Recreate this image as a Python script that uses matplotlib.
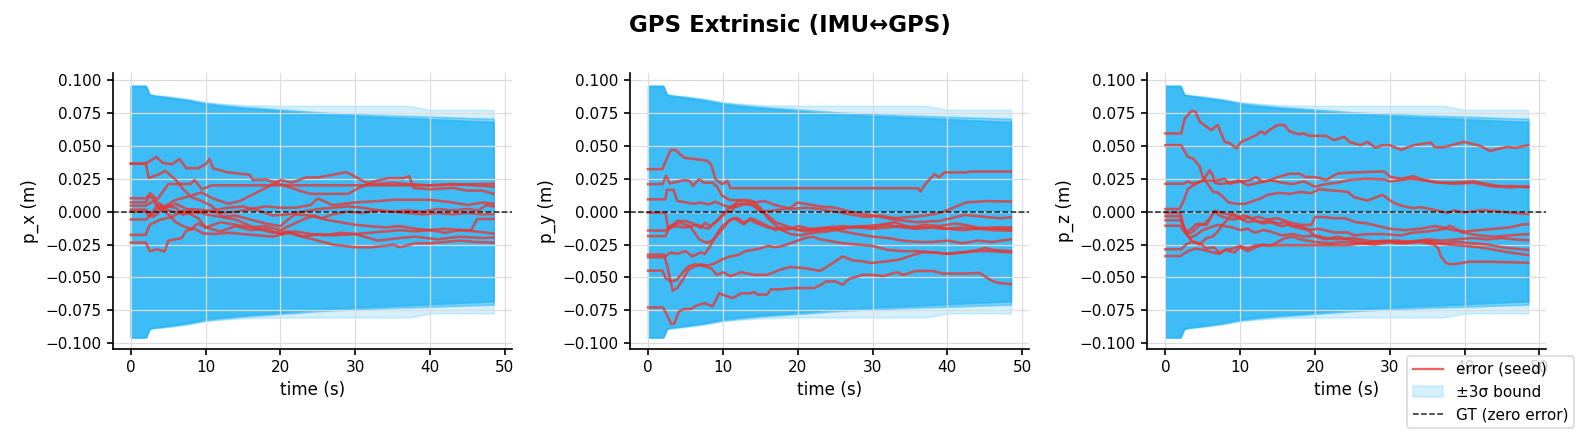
import matplotlib
matplotlib.use("Agg")
import matplotlib.pyplot as plt
from matplotlib.lines import Line2D
from matplotlib.patches import Patch
import numpy as np

ERR_COLOR = "#e53935"
BAND_COLOR = "#29b6f6"

# 3-sigma envelope knots (s, m); every axis shows the same set of seeds
SIG_T = [0, 2, 2.5, 3, 4, 5, 7.5, 10, 12, 15, 20, 25, 30, 35, 37, 38.5, 40, 45, 48.5]
SIG_TIGHT = [0.0955, 0.0955, 0.0888, 0.0880, 0.0872, 0.0865, 0.0844, 0.0816, 0.0802, 0.0786,
             0.0765, 0.0742, 0.0727, 0.0714, 0.0710, 0.0706, 0.0702, 0.0689, 0.0681]
SIG_MID = [0.0955, 0.0955, 0.0890, 0.0884, 0.0877, 0.0870, 0.0852, 0.0826, 0.0813, 0.0797,
           0.0777, 0.0756, 0.0741, 0.0730, 0.0727, 0.0724, 0.0722, 0.0712, 0.0706]
SIG_WIDE = [0.0955, 0.0955, 0.0892, 0.0888, 0.0882, 0.0878, 0.0858, 0.0832, 0.0822, 0.0810,
            0.0804, 0.0804, 0.0804, 0.0804, 0.0804, 0.0790, 0.0773, 0.0773, 0.0773]
SEED_SIGMAS = [SIG_TIGHT] * 6 + [SIG_MID] * 3 + [SIG_WIDE]

# error traces, (time, error) pairs per seed
PX_SEEDS = [
    [(0, 0.0365), (2, 0.0365), (3.4, 0.0415), (4.3, 0.037), (5.5, 0.036), (6.5, 0.040), (7.4, 0.033),
     (9, 0.033), (10, 0.036), (10.5, 0.040), (11, 0.033), (12.8, 0.030), (15.9, 0.028), (16.3, 0.024),
     (18, 0.0245), (19.9, 0.021), (21, 0.019), (22.5, 0.016), (24, 0.0135), (29, 0.0135), (30.5, 0.018),
     (32.5, 0.023), (34.5, 0.0255), (36.5, 0.0255), (37.2, 0.027), (37.8, 0.018), (40, 0.017),
     (43, 0.018), (45, 0.016), (47, 0.016), (48.5, 0.0135)],
    [(0, 0.0365), (2, 0.0365), (2.4, 0.0256), (3.6, 0.028), (4.6, 0.031), (5.9, 0.0248), (7, 0.017),
     (8.1, 0.011), (9.4, 0.0082), (10.8, 0.0044), (12.3, -0.0043), (14, -0.006), (16.8, -0.013),
     (19, -0.016), (21, -0.015), (23, -0.019), (25, -0.017), (27, -0.018), (30, -0.017), (33, -0.022),
     (36, -0.020), (38, -0.019), (41, -0.021), (44, -0.019), (47, -0.020), (48.5, -0.0196)],
    [(0, 0.0102), (2, 0.0102), (2.6, 0.014), (3.5, 0.009), (5, 0.021), (8, 0.021), (8.5, 0.024),
     (9.5, 0.017), (10.8, 0.020), (36, 0.020), (40, 0.020), (48.5, 0.0212)],
    [(0, 0.0071), (2, 0.0071), (2.5, 0.012), (3.5, 0.007), (4.5, 0.004), (6, 0.009), (8, 0.012),
     (9.4, 0.0146), (11, 0.010), (13, 0.006), (14.5, 0.008), (17, 0.015), (19, 0.021), (20, 0.024),
     (21.5, 0.022), (23.4, 0.026), (25, 0.026), (27, 0.028), (28.8, 0.030), (29.5, 0.028),
     (31.5, 0.022), (33, 0.021), (35, 0.022), (37, 0.021), (40, 0.020), (43, 0.021), (46, 0.020),
     (48.5, 0.019)],
    [(0, 0.0046), (2, 0.0046), (3, 0.008), (4, 0.001), (5, 0.004), (6, 0.003), (7, -0.002), (8, 0.002),
     (10, 0.001), (12, -0.001), (14, 0.000), (16, 0.002), (18, 0.004), (20, 0.003), (22, 0.003),
     (24, 0.005), (25, 0.010), (27, 0.005), (30, 0.007), (33, 0.008), (35, 0.009), (37, 0.009),
     (40, 0.009), (43, 0.007), (45, 0.005), (47, 0.007), (48.5, 0.0059)],
    [(0, 0.0015), (2, 0.0015), (3, -0.004), (4.5, 0.003), (6, 0.006), (7.5, 0.002), (9, -0.001),
     (11, 0.001), (13, 0.003), (15, 0.004), (17, 0.001), (19, -0.003), (21, -0.002), (23, 0.000),
     (25, 0.002), (27, 0.003), (29, 0.004), (31, 0.003), (33, 0.001), (35, 0.000), (37, -0.001),
     (39, -0.002), (41, -0.001), (43, -0.002), (45, -0.001), (47, -0.002), (48.5, -0.0018)],
    [(0, 0.0), (2, 0.0), (2.5, -0.004), (3.5, 0.005), (5, 0.001), (7, -0.002), (9, 0.000), (10, -0.002),
     (12, -0.004), (14, -0.003), (16, -0.006), (18, -0.009), (20, -0.011), (21, -0.006), (22, -0.002),
     (24, -0.003), (26, -0.006), (28, -0.008), (30, -0.010), (32, -0.011), (34, -0.012), (36, -0.011),
     (38, -0.013), (40, -0.014), (42, -0.013), (44, -0.014), (45.5, -0.014), (46.3, -0.0056),
     (48.5, -0.0056)],
    [(0, -0.0059), (2, -0.0059), (3, -0.001), (4, 0.004), (5, -0.002), (6, -0.008), (7, -0.011),
     (8, -0.013), (9, -0.009), (10, -0.012), (12, -0.015), (14, -0.011), (16, -0.014), (18, -0.013),
     (20, -0.017), (22, -0.015), (24, -0.017), (26, -0.018), (28, -0.016), (30, -0.017), (32, -0.016),
     (34, -0.015), (36, -0.014), (38, -0.015), (40, -0.014), (42, -0.016), (44, -0.014), (46, -0.015),
     (48.5, -0.0166)],
    [(0, -0.0176), (2, -0.0176), (2.5, -0.010), (4, -0.006), (5.5, -0.004), (7, 0.001), (8, -0.002),
     (9, -0.005), (10, -0.012), (12, -0.008), (14, -0.010), (16, -0.012), (18, -0.011), (20, -0.014),
     (21.5, -0.010), (23, -0.006), (24.5, -0.003), (25.5, -0.005), (27, -0.002), (29, 0.000),
     (31, -0.001), (33, 0.001), (35, 0.000), (37, 0.001), (39, 0.000), (41, 0.002), (43, 0.001),
     (45, 0.002), (46.5, 0.001), (47.5, 0.005), (48.5, 0.004)],
    [(0, -0.0235), (2, -0.0235), (2.5, -0.030), (3.5, -0.0285), (4.5, -0.0303), (5, -0.022), (6, -0.021),
     (6.8, -0.020), (7.4, -0.0145), (8.5, -0.013), (9.7, -0.0166), (11.4, -0.017), (13, -0.016),
     (15, -0.017), (17, -0.018), (19, -0.019), (21, -0.016), (23, -0.019), (25, -0.022), (27, -0.025),
     (30, -0.027), (32, -0.027), (34, -0.026), (35, -0.025), (36, -0.027), (38, -0.024), (40, -0.024),
     (42, -0.023), (44, -0.022), (46, -0.023), (48.5, -0.0235)],
]

PY_SEEDS = [
    [(0, 0.0323), (1.9, 0.0323), (3, 0.0468), (3.7, 0.0468), (4.8, 0.041), (7.9, 0.0387), (8.4, 0.036),
     (9, 0.0247), (9.9, 0.0209), (10.6, 0.0234), (11, 0.0178), (36.1, 0.0178), (36.4, 0.0153),
     (37.2, 0.022), (38.3, 0.0285), (38.9, 0.026), (39.6, 0.0298), (42.5, 0.0298), (43, 0.0305),
     (48.5, 0.0305)],
    [(0, 0.0209), (1.9, 0.0209), (2.4, 0.0272), (2.9, 0.0214), (4.8, 0.024), (5.5, 0.0235), (6, 0.0196),
     (6.8, 0.0247), (7.5, 0.022), (8.6, 0.022), (9.2, 0.019), (9.9, 0.012), (11, 0.0087), (12.4, 0.0087),
     (14.2, 0.0069), (15.5, 0.0081), (17, 0.005), (19, 0.002), (21, 0.003), (23, 0.002), (25, 0.000),
     (27, -0.002), (29, -0.004), (31, -0.003), (33, -0.005), (35, -0.004), (37, -0.003), (39, -0.001),
     (40.8, 0.003), (42.5, 0.007), (45.2, 0.008), (48.5, 0.0077)],
    [(0, 0.0094), (2.3, 0.0094), (2.5, 0.0165), (3.4, 0.0165), (3.9, 0.0081), (5.2, 0.0069), (6, 0.006),
     (7, 0.0069), (8.1, 0.0056), (9, 0.0075), (9.7, 0.0056), (11, 0.003), (12, 0.004), (13, 0.006),
     (14, 0.005), (15, 0.000), (17, 0.001), (19, 0.003), (20, 0.007), (21, 0.006), (23, 0.004),
     (25, 0.003), (27, 0.000), (30, -0.003), (33, -0.006), (36, -0.008), (39, -0.007), (42.3, -0.0025),
     (45, -0.004), (47, -0.005), (48.5, -0.0043)],
    [(0, -0.0008), (2.3, -0.0008), (2.7, -0.0135), (3.5, -0.011), (5, -0.012), (6.5, -0.010), (8, -0.013),
     (9, -0.008), (10, -0.002), (11, 0.004), (12, 0.006), (13, 0.006), (14, 0.005), (15, 0.001),
     (16, -0.003), (17, -0.008), (18, -0.010), (19, -0.012), (20, -0.014), (22, -0.013), (24, -0.012),
     (26, -0.015), (28, -0.017), (30, -0.019), (32, -0.020), (34, -0.022), (36, -0.023), (38, -0.023),
     (40, -0.022), (42, -0.024), (44, -0.022), (46, -0.023), (48.5, -0.021)],
    [(0, -0.0143), (2.3, -0.0143), (3.9, -0.0071), (5, -0.0071), (6, -0.009), (7, -0.0122),
     (7.6, -0.0085), (8.3, -0.011), (9, -0.008), (9.7, -0.0046), (10.5, 0.0), (11.2, 0.0005),
     (11.9, 0.0081), (13, 0.009), (14, 0.008), (15, 0.003), (16, -0.005), (17, -0.010), (18, -0.014),
     (19, -0.013), (20, -0.011), (21, -0.012), (22, -0.014), (23, -0.013), (24, -0.012), (26, -0.011),
     (28, -0.012), (30, -0.013), (32, -0.012), (34, -0.011), (36, -0.012), (38, -0.012), (40, -0.013),
     (42, -0.012), (44, -0.013), (46, -0.012), (48.5, -0.012)],
    [(0, -0.0186), (2.3, -0.0186), (2.9, -0.011), (4.3, -0.0085), (5.6, -0.011), (6.8, -0.021),
     (7.9, -0.0237), (8.8, -0.021), (9.7, -0.0148), (10.8, -0.0071), (11.5, -0.005), (12.8, -0.0097),
     (13.7, -0.005), (15, -0.008), (16, -0.011), (17, -0.014), (18, -0.012), (19.5, -0.013),
     (21, -0.015), (23, -0.014), (25, -0.013), (27, -0.012), (29, -0.011), (31, -0.010), (33, -0.008),
     (35, -0.012), (37, -0.010), (39, -0.011), (41, -0.009), (42.3, -0.010), (44, -0.012),
     (46, -0.013), (48.5, -0.013)],
    [(0, -0.0326), (2.1, -0.0326), (2.5, -0.040), (3, -0.053), (3.3, -0.060), (3.9, -0.058),
     (4.6, -0.052), (5.4, -0.044), (6.1, -0.042), (7, -0.040), (8, -0.041), (9, -0.039), (10, -0.036),
     (11, -0.034), (12, -0.033), (13, -0.030), (14, -0.029), (15, -0.028), (16, -0.026), (17, -0.027),
     (18, -0.026), (19, -0.024), (20, -0.022), (21, -0.020), (22, -0.019), (23, -0.021), (24, -0.022),
     (25, -0.023), (26, -0.024), (28, -0.025), (30, -0.026), (32, -0.029), (34, -0.030), (36, -0.030),
     (38, -0.031), (40, -0.032), (42, -0.031), (44, -0.030), (46, -0.030), (48.5, -0.031)],
    [(0, -0.0346), (2.1, -0.0346), (3, -0.031), (3.9, -0.032), (5, -0.030), (5.9, -0.034), (7, -0.031),
     (7.6, -0.032), (8.3, -0.026), (9, -0.0186), (9.9, -0.011), (11, -0.0059), (11.9, -0.0048),
     (12.8, -0.0084), (13.5, -0.006), (14.6, -0.009), (16, -0.012), (17.5, -0.013), (19, -0.017),
     (20.5, -0.018), (22, -0.016), (24, -0.015), (26, -0.013), (28, -0.011), (30, -0.012),
     (32, -0.010), (34, -0.012), (36, -0.013), (38, -0.012), (40, -0.013), (42, -0.014), (44, -0.013),
     (46, -0.014), (48.5, -0.0145)],
    [(0, -0.0448), (1.9, -0.0448), (2.3, -0.050), (3, -0.053), (3.8, -0.052), (4.8, -0.045),
     (5.4, -0.0415), (6.3, -0.040), (7.5, -0.0415), (8.4, -0.043), (9.2, -0.048), (10, -0.046),
     (11, -0.049), (12.4, -0.046), (14.2, -0.048), (15.9, -0.048), (17.7, -0.044), (19, -0.042),
     (21, -0.043), (23, -0.045), (24.7, -0.039), (26, -0.034), (27.3, -0.037), (28.7, -0.0377),
     (29.8, -0.039), (31.5, -0.038), (33.6, -0.0364), (35.4, -0.033), (36.7, -0.0306), (38.5, -0.031),
     (39.9, -0.032), (42.5, -0.0306), (44.2, -0.029), (45, -0.0275), (46, -0.029), (48.5, -0.030)],
    [(0, -0.0728), (2, -0.0728), (3.1, -0.0853), (3.5, -0.085), (4.1, -0.0759), (4.8, -0.074),
     (5.7, -0.074), (6.4, -0.0715), (7, -0.0703), (7.6, -0.0695), (8.6, -0.072), (9.5, -0.062),
     (10.4, -0.064), (11.3, -0.0657), (12.4, -0.062), (13.7, -0.062), (14.2, -0.061), (14.6, -0.063),
     (15.9, -0.063), (16.4, -0.059), (17.7, -0.059), (19.5, -0.058), (22.2, -0.058), (23.1, -0.0555),
     (23.8, -0.053), (25, -0.053), (26, -0.0555), (26.9, -0.051), (28.7, -0.048), (30, -0.048),
     (31.4, -0.049), (33.2, -0.046), (34.1, -0.048), (35.8, -0.045), (38, -0.045), (39.4, -0.047),
     (42.5, -0.047), (44.3, -0.0465), (45.8, -0.052), (46.7, -0.054), (48.5, -0.055)],
]

PZ_SEEDS = [
    [(0, 0.0594), (2.1, 0.0594), (2.6, 0.071), (3.5, 0.0765), (4, 0.076), (4.6, 0.0683), (6.1, 0.062),
     (7, 0.0658), (7.9, 0.053), (8.6, 0.052), (9.5, 0.048), (10.1, 0.053), (11.2, 0.0556), (12.1, 0.058),
     (12.8, 0.061), (13.3, 0.059), (13.9, 0.062), (15, 0.0658), (15.9, 0.0658), (16.6, 0.061),
     (17.9, 0.0587), (18.5, 0.0595), (19.2, 0.0576), (21.5, 0.0576), (22.1, 0.0556), (22.6, 0.0543),
     (23.9, 0.0569), (24.6, 0.053), (26.1, 0.0505), (27, 0.053), (28.1, 0.0485), (29, 0.0505),
     (30, 0.0505), (31.5, 0.047), (33.2, 0.0505), (35.5, 0.0525), (36, 0.049), (37.2, 0.049),
     (39.9, 0.053), (42.1, 0.050), (43.4, 0.046), (44.7, 0.048), (45.7, 0.0492), (46.8, 0.0485),
     (48.5, 0.0505)],
    [(0, 0.0505), (2.1, 0.0505), (3, 0.0416), (3.7, 0.0405), (4.6, 0.034), (5, 0.0263), (6.4, 0.0148),
     (6.9, 0.0148), (7.5, 0.0122), (8.4, 0.0071), (9.5, 0.0059), (10.6, 0.0059), (11.2, 0.0071),
     (12.6, 0.0097), (13.7, 0.0128), (15.2, 0.0143), (16.6, 0.0135), (18, 0.0150), (19.5, 0.014),
     (20.5, 0.017), (22.6, 0.016), (24.4, 0.015), (25.2, 0.011), (27, 0.0084), (29, 0.0128),
     (30.4, 0.0071), (31.5, 0.0046), (33.2, 0.0026), (34, 0.0035), (35.9, 0.0015), (37.7, -0.001),
     (38.6, 0.001), (39.9, -0.0005), (42.6, 0.0012), (45.7, -0.0005), (48.5, -0.0018)],
    [(0, 0.0212), (2.4, 0.0212), (3, 0.023), (3.7, 0.0212), (5, 0.0237), (6.8, 0.0237), (7.9, 0.025),
     (8.6, 0.0212), (9.5, 0.0225), (11.2, 0.0237), (12.1, 0.0263), (13, 0.0225), (13.9, 0.0237),
     (15, 0.0263), (16.6, 0.0288), (17.9, 0.0288), (18.8, 0.0263), (20, 0.0263), (21.5, 0.024),
     (23, 0.029), (24.4, 0.0296), (29.2, 0.0306), (30.1, 0.0263), (31.5, 0.025), (33.2, 0.027),
     (34, 0.025), (35.9, 0.0224), (38.6, 0.0212), (41.2, 0.022), (43.9, 0.019), (46, 0.0195),
     (48.5, 0.0186)],
    [(0, 0.002), (1.9, 0.002), (2.4, 0.008), (3, 0.0173), (4.1, 0.0212), (5, 0.0237), (5.9, 0.0314),
     (6.3, 0.028), (6.6, 0.022), (7.3, 0.021), (8.6, 0.022), (9.8, 0.0237), (11, 0.020), (12.5, 0.022),
     (14, 0.024), (15.5, 0.022), (17, 0.021), (18.5, 0.023), (20, 0.019), (21.5, 0.021), (23, 0.022),
     (24.5, 0.024), (26.6, 0.025), (29.2, 0.0245), (30.1, 0.023), (32.8, 0.025), (35.5, 0.023),
     (36.8, 0.022), (38.6, 0.022), (41.2, 0.023), (43.9, 0.020), (45.7, 0.0185), (48.5, 0.0191)],
    [(0, -0.001), (2, -0.001), (2.6, -0.016), (3.5, -0.013), (4.1, -0.0094), (5.2, -0.0094),
     (5.9, -0.0056), (6.6, 0.0008), (7.5, -0.001), (8.5, -0.002), (9.5, -0.0043), (10.5, -0.003),
     (11.5, -0.005), (12.5, -0.004), (13.5, -0.006), (15, -0.005), (16.5, -0.008), (18, -0.010),
     (19.5, -0.010), (20, -0.004), (21, -0.004), (22.5, -0.005), (24, -0.005), (25.5, -0.008),
     (27, -0.009), (28.5, -0.011), (30, -0.013), (32, -0.014), (34, -0.013), (36, -0.011),
     (37, -0.012), (38.5, -0.014), (40, -0.015), (42, -0.014), (44, -0.013), (46, -0.012),
     (47.5, -0.010), (48.5, -0.0094)],
    [(0, -0.0035), (2, -0.0035), (2.5, -0.012), (3, -0.017), (3.7, -0.015), (4.6, -0.010),
     (5.5, -0.010), (6.1, -0.004), (6.6, 0.0005), (7.2, -0.003), (8, -0.0045), (9, -0.006),
     (10, -0.005), (11, -0.008), (12, -0.007), (13, -0.009), (14, -0.008), (15.5, -0.011),
     (16.5, -0.010), (17.5, -0.012), (19, -0.014), (20.5, -0.013), (22.6, -0.0158), (24.4, -0.0158),
     (25.2, -0.018), (27, -0.017), (29, -0.017), (31.5, -0.018), (33, -0.016), (35, -0.015),
     (37.2, -0.0133), (38, -0.0107), (39.7, -0.0158), (41.9, -0.018), (44.1, -0.019), (46, -0.018),
     (48.5, -0.017)],
    [(0, -0.0065), (2, -0.0065), (2.3, -0.010), (3.2, -0.020), (4, -0.018), (5, -0.014), (6, -0.012),
     (7, -0.010), (8, -0.011), (9, -0.012), (10, -0.014), (11, -0.013), (12, -0.016), (13, -0.014),
     (14, -0.015), (15.5, -0.018), (17, -0.017), (18.5, -0.019), (20, -0.018), (21.5, -0.020),
     (23, -0.021), (25, -0.020), (27, -0.022), (29, -0.023), (31, -0.022), (33, -0.023), (35, -0.021),
     (37, -0.022), (39, -0.021), (41, -0.020), (43, -0.021), (45, -0.020), (46.5, -0.021),
     (48.5, -0.0217)],
    [(0, -0.0107), (2, -0.0107), (2.5, -0.015), (3.5, -0.022), (4.5, -0.025), (5.5, -0.020),
     (6.3, -0.019), (7, -0.015), (7.5, -0.011), (8.3, -0.006), (9, -0.001), (9.5, -0.003),
     (10.2, -0.006), (11, -0.004), (12, -0.007), (13, -0.008), (14, -0.007), (15, -0.009),
     (16, -0.008), (17, -0.011), (18, -0.011), (19, -0.013), (20, -0.019), (21.5, -0.021),
     (23, -0.019), (25, -0.022), (27, -0.024), (29, -0.022), (31, -0.024), (33, -0.023), (35, -0.022),
     (37, -0.024), (39, -0.023), (41, -0.024), (43, -0.025), (45, -0.027), (46.5, -0.028),
     (48.5, -0.029)],
    [(0, -0.0286), (2.1, -0.0286), (2.8, -0.0247), (3.5, -0.023), (4.6, -0.024), (5.5, -0.028),
     (6.5, -0.027), (7.2, -0.031), (8, -0.029), (9, -0.028), (10, -0.026), (11, -0.028), (12, -0.0255),
     (24.5, -0.0255), (26, -0.024), (28, -0.023), (30, -0.022), (32, -0.023), (34, -0.022),
     (36, -0.024), (38, -0.025), (40, -0.026), (42, -0.027), (44, -0.029), (46, -0.031),
     (48.5, -0.033)],
    [(0, -0.0337), (2, -0.0337), (3, -0.030), (4, -0.028), (5, -0.029), (6.4, -0.031), (7.2, -0.032),
     (8, -0.029), (9.2, -0.031), (10, -0.027), (11, -0.030), (12.1, -0.027), (13, -0.025),
     (14, -0.026), (15, -0.023), (16, -0.020), (17, -0.019), (18, -0.021), (19, -0.022), (20, -0.023),
     (22, -0.024), (24, -0.023), (26, -0.024), (28, -0.025), (30, -0.023), (32, -0.024), (34, -0.023),
     (35.9, -0.025), (36.5, -0.028), (36.8, -0.034), (37.5, -0.0388), (38, -0.040), (39, -0.0395),
     (40.7, -0.038), (43, -0.038), (48.5, -0.0388)],
]

PANELS = [("p_x", PX_SEEDS), ("p_y", PY_SEEDS), ("p_z", PZ_SEEDS)]
AX_LEFTS = [0.0714, 0.3990, 0.7266]

fig = plt.figure(figsize=(1579 / 110, 434 / 110), dpi=110)

for left, (name, seeds) in zip(AX_LEFTS, PANELS):
    ax = fig.add_axes([left, 0.1965, 0.2527, 0.6346])
    for sig in SEED_SIGMAS:
        s = np.array(sig)
        ax.fill_between(SIG_T, -s, s, color=BAND_COLOR, alpha=0.2)
    for seed in seeds:
        t, v = zip(*seed)
        ax.plot(t, v, color=ERR_COLOR, alpha=0.8, lw=1.7)
    ax.axhline(0, color="k", ls="--", lw=1.0, alpha=0.85)

    ax.set_ylim(-0.1041, 0.1051)
    ax.grid(True, color="#dddddd", lw=0.8)
    ax.spines[["top", "right"]].set_visible(False)
    ax.spines[["left", "bottom"]].set_linewidth(1.1)
    ax.tick_params(width=1.1, length=4)
    ax.set_xlabel("time (s)", fontsize=11)
    ax.set_ylabel(f"{name} (m)", fontsize=11)

handles = [
    Line2D([], [], color=ERR_COLOR, alpha=0.8, lw=1.5),
    Patch(facecolor=BAND_COLOR, edgecolor=BAND_COLOR, alpha=0.2),
    Line2D([], [], color="k", ls="--", lw=1.0, alpha=0.85),
]
labels = ["error (seed)", "±3σ bound", "GT (zero error)"]
fig.legend(handles, labels, loc="lower right", bbox_to_anchor=(0.997, 0.013),
           borderaxespad=0, fontsize=10)

fig.suptitle("GPS Extrinsic (IMU↔GPS)", fontsize=15, fontweight="bold", y=0.942, va="center")

fig.savefig("out.png", dpi=110)
